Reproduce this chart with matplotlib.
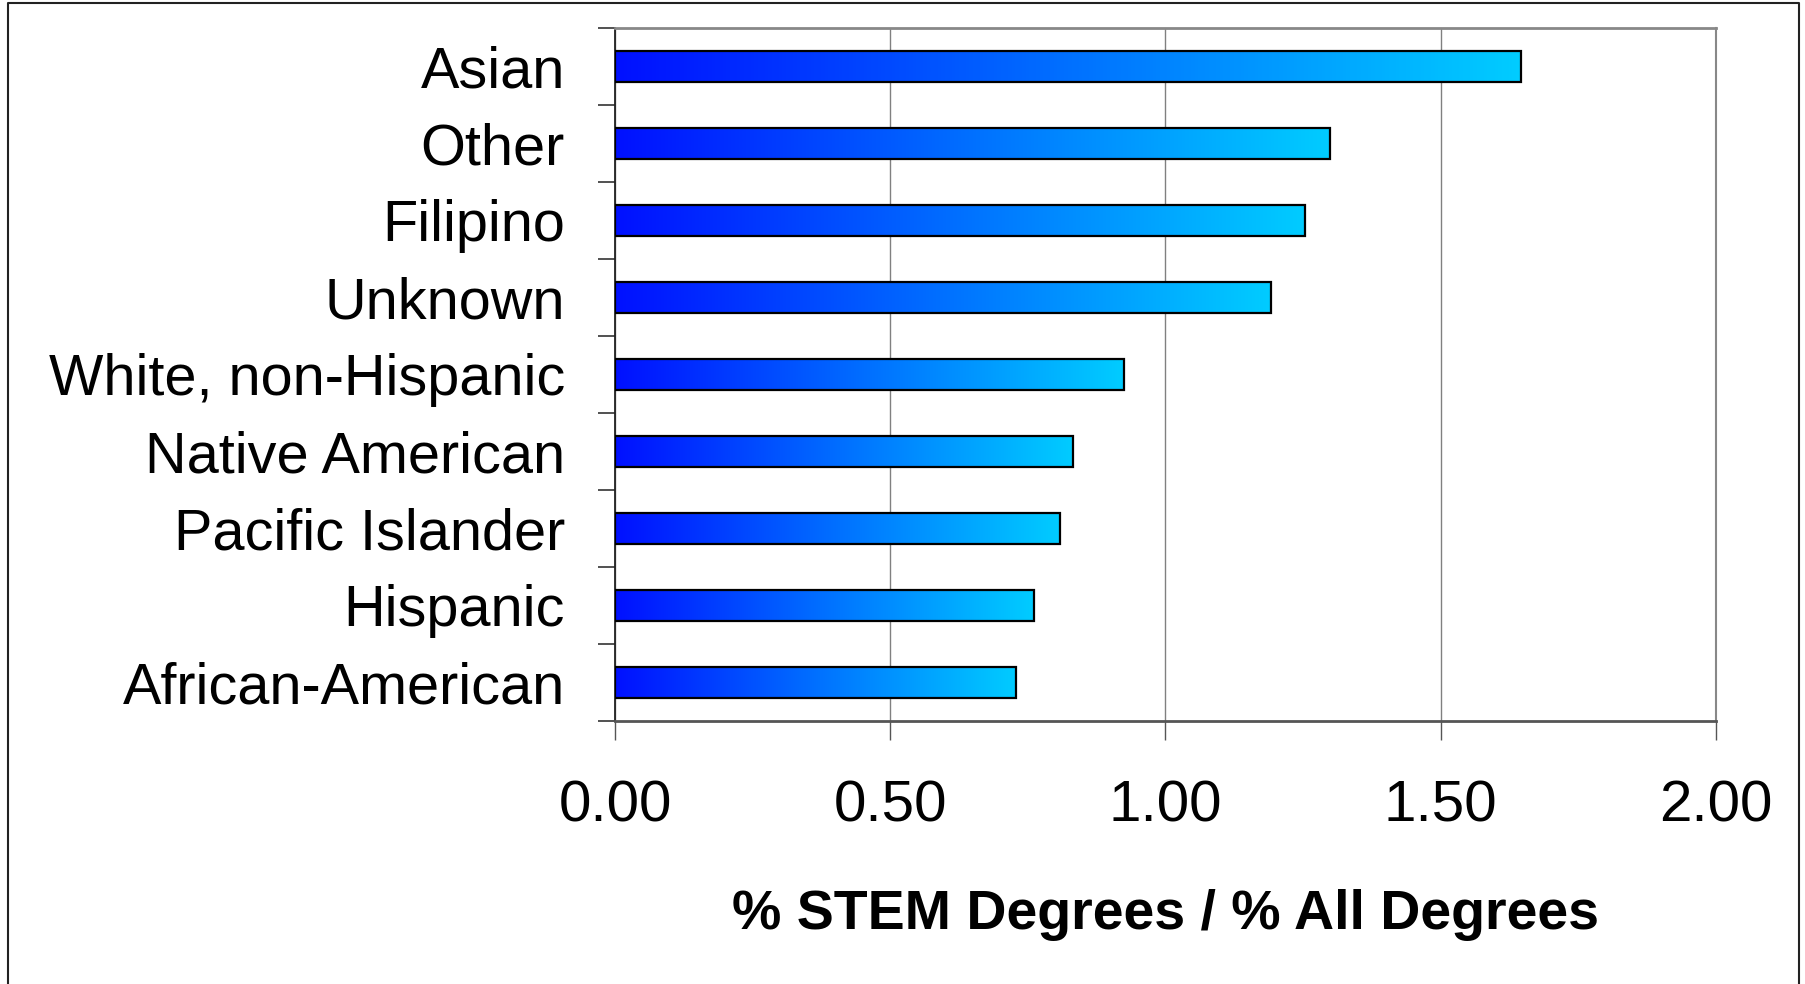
import numpy as np
import matplotlib.pyplot as plt
from matplotlib.lines import Line2D

# categories listed top to bottom, with the ratio
groups = ['Asian', 'Other', 'Filipino', 'Unknown', 'White, non-Hispanic',
          'Native American', 'Pacific Islander', 'Hispanic', 'African-American']
ratio = [1.645, 1.298, 1.254, 1.191, 0.924, 0.832, 0.809, 0.761, 0.729]
x_ticks = [0.0, 0.5, 1.0, 1.5, 2.0]
x_label = '% STEM Degrees / % All Degrees'

plt.rcParams['font.family'] = ['Liberation Sans', 'DejaVu Sans']

fig = plt.figure(figsize=(18.05, 9.84), dpi=100)
ax = fig.add_axes([0.3407, 0.2673, 0.6100, 0.7045])

pos = np.arange(len(groups))
bars = ax.barh(pos, ratio, height=0.40, color='none', edgecolor='black',
               linewidth=1.6, zorder=4)

# horizontal blue -> cyan gradient inside every bar
grad = np.linspace(0, 1, 256).reshape(1, -1)
cmap = plt.matplotlib.colors.LinearSegmentedColormap.from_list(
    'bluecyan', ['#0010ff', '#0070ff', '#00ccff'])
for b in bars:
    x0, y0, w, h = b.get_x(), b.get_y(), b.get_width(), b.get_height()
    ax.imshow(grad, cmap=cmap, aspect='auto', extent=(x0, x0 + w, y0 + h, y0),
              zorder=3, interpolation='bilinear')

ax.set_xlim(0, 2.0)
ax.set_ylim(len(groups) - 0.5, -0.5)

# y: tick marks on category boundaries, labels at centres
ax.set_yticks(np.arange(-0.5, len(groups), 1.0))
ax.set_yticklabels([])
ax.set_yticks(pos, minor=True)
ax.set_yticklabels(groups, minor=True, fontsize=41.5)
ax.tick_params(axis='y', which='major', direction='out', length=12, width=1.2, color='#333333')
ax.tick_params(axis='y', which='minor', length=0, pad=36)

ax.set_xticks(x_ticks)
ax.set_xticklabels(['%.2f' % t for t in x_ticks], fontsize=42)
ax.tick_params(axis='x', direction='out', length=14, width=1.0, color='#555555', pad=28)

ax.grid(axis='x', color='#808080', linewidth=1.0, zorder=0)
ax.set_axisbelow(True)

ax.spines['left'].set_color('#222222')
ax.spines['left'].set_linewidth(1.3)
ax.spines['bottom'].set_color('#555555')
ax.spines['bottom'].set_linewidth(2.0)
ax.spines['top'].set_color('#888888')
ax.spines['top'].set_linewidth(2.0)
ax.spines['right'].set_color('#888888')
ax.spines['right'].set_linewidth(1.5)

ax.set_xlabel(x_label, fontsize=40, fontweight='bold', labelpad=40)

# outer chart border (left, top, right)
fig.add_artist(Line2D([0.0045, 0.0045, 0.9965, 0.9965], [0.0, 0.997, 0.997, 0.0],
                      transform=fig.transFigure, color='#222222', linewidth=1.5))

fig.savefig('out.png', dpi=100, facecolor='white')
